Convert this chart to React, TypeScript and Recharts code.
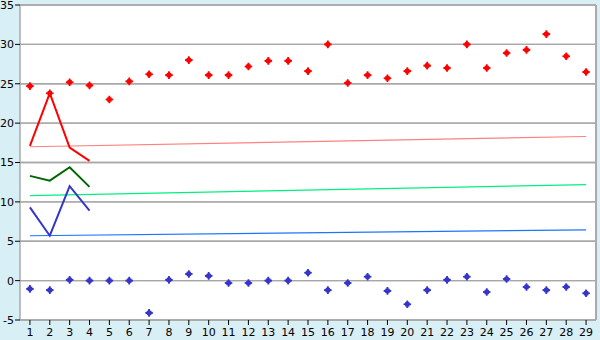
import React from "react";
import { ComposedChart, Line, XAxis, YAxis, CartesianGrid, ReferenceLine } from "recharts";

const categories = ["1","2","3","4","5","6","7","8","9","10","11","12","13","14","15","16","17","18","19","20","21","22","23","24","25","26","27","28","29"];
const redPoints = [24.7, 23.8, 25.2, 24.8, 23.0, 25.3, 26.2, 26.1, 28.0, 26.1, 26.1, 27.2, 27.9, 27.9, 26.6, 30.0, 25.1, 26.1, 25.7, 26.6, 27.3, 27.0, 30.0, 27.0, 28.9, 29.3, 31.3, 28.5, 26.5];
const bluePoints = [-1.05, -1.2, 0.1, 0, 0, 0, -4.1, 0.1, 0.85, 0.6, -0.3, -0.3, 0, 0, 1.0, -1.2, -0.3, 0.5, -1.3, -3.0, -1.2, 0.1, 0.5, -1.45, 0.2, -0.8, -1.2, -0.8, -1.6];
const redLine = [17.1, 23.8, 16.9, 15.2];
const greenLine = [13.3, 12.7, 14.4, 11.9];
const blueLine = [9.3, 5.7, 12.0, 8.9];
const redTrend = [17.0, 18.3];
const greenTrend = [10.8, 12.2];
const blueTrend = [5.7, 6.45];
const yTicks = [-5, 0, 5, 10, 15, 20, 25, 30, 35];

const last = categories.length - 1;
const data = categories.map((c, i) => ({
  x: c,
  red: redPoints[i],
  blue: bluePoints[i],
  rl: i < redLine.length ? redLine[i] : null,
  gl: i < greenLine.length ? greenLine[i] : null,
  bl: i < blueLine.length ? blueLine[i] : null,
  rt: i === 0 ? redTrend[0] : i === last ? redTrend[1] : null,
  gt: i === 0 ? greenTrend[0] : i === last ? greenTrend[1] : null,
  bt: i === 0 ? blueTrend[0] : i === last ? blueTrend[1] : null,
}));

const makeMarker = (color: string) => (props: any) => {
  const { cx, cy, index } = props;
  if (cx == null || cy == null) return <g key={index} />;
  const pts = [
    [-0.8, -3.8], [0.8, -3.8], [1.3, -1.3], [3.8, -0.8], [3.8, 0.8], [1.3, 1.3], [0.8, 3.8], [-0.8, 3.8], [-1.3, 1.3], [-3.8, 0.8], [-3.8, -0.8], [-1.3, -1.3],
  ]
    .map(([dx, dy]) => `${cx + dx},${cy + dy}`)
    .join(" ");
  return (
    <g key={index}>
      <polygon points={pts} fill={color} stroke="none" />
      <rect x={cx - 2.2} y={cy - 2.2} width={4.4} height={4.4} fill={color} />
    </g>
  );
};

const font = { fontFamily: "DejaVu Sans", fontSize: 11, fill: "#000" };

export default function App() {
  return (
    <div style={{ position: "fixed", left: 0, top: 0, width: 600, height: 340, background: "#d9eff6" }}>
      <ComposedChart width={600} height={340} data={data} margin={{ top: 5, right: 2, bottom: 0, left: 0 }}>
        <CartesianGrid
          yAxisId="l"
          horizontal={true}
          vertical={false}
          stroke="#a8a8a8"
          strokeWidth={1.3}
          strokeDasharray="0"
          fill="#ffffff"
          fillOpacity={1}
        />
        <XAxis
          dataKey="x"
          scale="band"
          height={20}
          tick={font}
          tickLine={{ stroke: "#000" }}
          tickSize={5}
          tickMargin={3}
          axisLine={{ stroke: "#aaaaaa", strokeWidth: 1.5 }}
          interval={0}
        />
        <YAxis
          yAxisId="l"
          width={20}
          domain={[-5, 35]}
          ticks={yTicks}
          tick={font}
          tickLine={{ stroke: "#000" }}
          tickSize={5}
          tickMargin={1}
          axisLine={{ stroke: "#aaaaaa", strokeWidth: 1.5 }}
          interval={0}
        />
        <YAxis
          yAxisId="r"
          orientation="right"
          width={2}
          domain={[-5, 35]}
          tick={false}
          tickLine={false}
          axisLine={{ stroke: "#aaaaaa", strokeWidth: 2 }}
        />
        {yTicks.map((v) => (
          <ReferenceLine key={"g" + v} yAxisId="l" y={v} stroke="#a8a8a8" strokeWidth={1.3} />
        ))}
        <Line yAxisId="l" dataKey="rt" stroke="#ff8080" strokeWidth={1.2} dot={false} activeDot={false} connectNulls isAnimationActive={false} />
        <Line yAxisId="l" dataKey="gt" stroke="#00f080" strokeWidth={1.2} dot={false} activeDot={false} connectNulls isAnimationActive={false} />
        <Line yAxisId="l" dataKey="bt" stroke="#1a75ff" strokeWidth={1.2} dot={false} activeDot={false} connectNulls isAnimationActive={false} />
        <Line yAxisId="l" dataKey="rl" stroke="#ff0000" strokeWidth={2} dot={false} activeDot={false} isAnimationActive={false} />
        <Line yAxisId="l" dataKey="gl" stroke="#006600" strokeWidth={2} dot={false} activeDot={false} isAnimationActive={false} />
        <Line yAxisId="l" dataKey="bl" stroke="#3535cc" strokeWidth={2} dot={false} activeDot={false} isAnimationActive={false} />
        <Line yAxisId="l" dataKey="red" stroke="none" dot={makeMarker("#ff0000")} activeDot={false} isAnimationActive={false} />
        <Line yAxisId="l" dataKey="blue" stroke="none" dot={makeMarker("#3535cc")} activeDot={false} isAnimationActive={false} />
      </ComposedChart>
    </div>
  );
}
